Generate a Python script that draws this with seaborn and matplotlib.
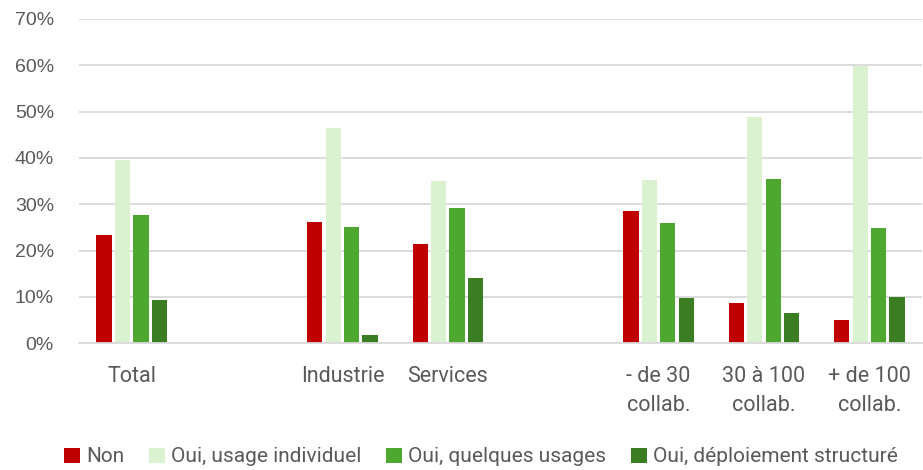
import matplotlib
matplotlib.use("Agg")
import matplotlib.pyplot as plt
import seaborn as sns
import pandas as pd
from matplotlib.ticker import PercentFormatter, MultipleLocator

# ---- data ----
categories = ["Total", " ", "Industrie", "Services", "  ",
              "- de 30\ncollab.", "30 à 100\ncollab.", "+ de 100\ncollab."]
data_categories = ["Total", "Industrie", "Services",
                   "- de 30\ncollab.", "30 à 100\ncollab.", "+ de 100\ncollab."]
series = ["Non", "Oui, usage individuel", "Oui, quelques usages", "Oui, déploiement structuré"]
non = [23.3, 26.1, 21.4, 28.6, 8.8, 5.0]
usage_individuel = [39.6, 46.5, 35.0, 35.3, 48.8, 59.9]
quelques_usages = [27.6, 25.1, 29.1, 26.0, 35.5, 24.9]
deploiement = [9.3, 1.8, 14.2, 9.8, 6.5, 10.0]
colors = ["#C00000", "#DAF2D0", "#4EA72E", "#3B7D23"]

rows = []
for s, vals in zip(series, [non, usage_individuel, quelques_usages, deploiement]):
    for c, v in zip(data_categories, vals):
        rows.append({"cat": c, "serie": s, "val": v / 100})
df = pd.DataFrame(rows)

sns.set_theme(style="white")
plt.rcParams["font.family"] = ["Roboto", "DejaVu Sans"]
txt = "#595959"

fig = plt.figure(figsize=(9.23, 4.70), dpi=100)
ax = fig.add_axes([79 / 923, 1 - 343.3 / 470, 1 - 79 / 923 - 0.001, (343.3 - 19) / 470])

sns.barplot(data=df, x="cat", y="val", hue="serie", order=categories,
            hue_order=series, palette=colors, width=0.7, gap=0.17,
            saturation=1, linewidth=0, ax=ax, legend=True)

ax.set_ylim(0, 0.7)
ax.yaxis.set_major_locator(MultipleLocator(0.1))
ax.yaxis.set_major_formatter(PercentFormatter(1.0, decimals=0))
ax.grid(axis="y", color="#D9D9D9", linewidth=1.3)
ax.set_axisbelow(True)
for side in ["top", "right", "left"]:
    ax.spines[side].set_visible(False)
ax.spines["bottom"].set_color("#D9D9D9")
ax.spines["bottom"].set_linewidth(1.3)
ax.set_xlabel("")
ax.set_ylabel("")
ax.tick_params(axis="both", length=0)
ax.tick_params(axis="y", pad=18)
ax.tick_params(axis="x", pad=16)
for lab in ax.get_yticklabels():
    lab.set_fontfamily(["Liberation Sans", "DejaVu Sans"])
    lab.set_fontsize(14)
    lab.set_color(txt)
for lab in ax.get_xticklabels():
    lab.set_fontsize(15.5)
    lab.set_color(txt)
    lab.set_linespacing(1.5)
ax.set_xlim(-0.5, len(categories) - 0.5)

handles, labels = ax.get_legend_handles_labels()
ax.get_legend().remove()
leg = fig.legend(handles, labels, loc="center", bbox_to_anchor=(481 / 923, 1 - 457 / 470),
                 ncol=4, frameon=False, fontsize=15, handlelength=0.75, handleheight=0.75,
                 handletextpad=0.3, columnspacing=1.2, borderaxespad=0)
for t in leg.get_texts():
    t.set_color(txt)

fig.savefig("out.png", dpi=100)
